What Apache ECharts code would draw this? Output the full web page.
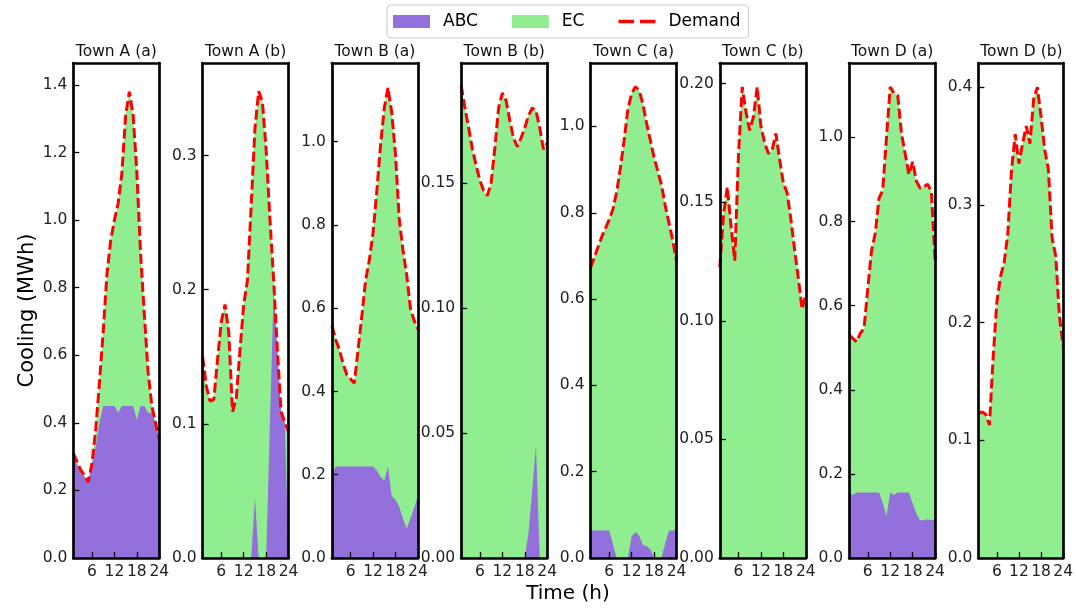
<!DOCTYPE html>
<html><head><meta charset="utf-8">
<script src="https://cdn.jsdelivr.net/npm/echarts@6/dist/echarts.min.js"></script>
<style>html,body{margin:0;padding:0;background:#fff}#c{width:1076px;height:610px}</style>
</head><body><div id="c"></div>
<script>
// ---------- data ----------
const hours = [1,2,3,4,5,6,7,8,9,10,11,12,13,14,15,16,17,18,19,20,21,22,23,24];
const xTicks = [6,12,18,24];
const titles = ['Town A (a)','Town A (b)','Town B (a)','Town B (b)','Town C (a)','Town C (b)','Town D (a)','Town D (b)'];
const seriesNames = ['ABC','EC','Demand'];

const demandA_a = [0.31,0.285,0.26,0.245,0.225,0.28,0.38,0.52,0.67,0.84,0.94,1.0,1.05,1.14,1.31,1.38,1.31,1.14,0.90,0.72,0.55,0.45,0.40,0.35];
const abcA_a    = [0.30,0.275,0.255,0.24,0.225,0.28,0.33,0.40,0.45,0.45,0.45,0.45,0.43,0.45,0.45,0.45,0.45,0.41,0.45,0.45,0.43,0.43,0.40,0.35];

const demandA_b = [0.150,0.128,0.117,0.118,0.148,0.176,0.189,0.168,0.109,0.119,0.155,0.189,0.207,0.263,0.320,0.348,0.340,0.304,0.253,0.207,0.155,0.109,0.101,0.094];
const abcA_b    = [0,0,0,0,0,0,0,0,0,0,0,0,0,0,0.045,0,0,0,0.10,0.20,0.155,0.109,0.101,0];

const demandB_a = [0.558,0.525,0.50,0.467,0.44,0.43,0.42,0.50,0.58,0.666,0.715,0.78,0.88,0.99,1.08,1.13,1.07,0.97,0.815,0.74,0.68,0.60,0.57,0.55];
const abcB_a    = [0.20,0.22,0.22,0.22,0.22,0.22,0.22,0.22,0.22,0.22,0.22,0.22,0.21,0.195,0.186,0.219,0.149,0.14,0.124,0.095,0.07,0.095,0.12,0.149];

const demandB_b = [0.189,0.180,0.172,0.1635,0.157,0.151,0.147,0.145,0.150,0.164,0.180,0.186,0.183,0.175,0.168,0.1645,0.168,0.172,0.177,0.180,0.179,0.172,0.1635,0.166];
const abcB_b    = [0,0,0,0,0,0,0,0,0,0,0,0,0,0,0,0,0,0,0.01,0.027,0.045,0,0,0];

const demandC_a = [0.672,0.696,0.72,0.744,0.764,0.784,0.808,0.848,0.904,0.968,1.04,1.076,1.092,1.084,1.052,1.008,0.968,0.928,0.896,0.864,0.816,0.776,0.736,0.688];
const abcC_a    = [0.064,0.064,0.064,0.064,0.064,0.064,0.032,0,0,0,0,0.05,0.06,0.052,0.03,0.028,0.02,0,0,0,0.035,0.064,0.064,0.064];

const demandC_b = [0.1226,0.145,0.1564,0.14,0.1254,0.17,0.1986,0.188,0.1803,0.186,0.1986,0.182,0.175,0.1705,0.172,0.179,0.168,0.158,0.154,0.143,0.13,0.118,0.105,0.111];
const abcC_b    = [0,0,0,0,0,0,0,0,0,0,0,0,0,0,0,0,0,0,0,0,0,0,0,0];

const demandD_a = [0.53,0.522,0.514,0.534,0.546,0.641,0.731,0.772,0.855,0.875,1.0,1.12,1.105,1.10,1.01,0.961,0.912,0.942,0.896,0.879,0.883,0.889,0.871,0.707];
const abcD_a    = [0.156,0.15,0.156,0.156,0.156,0.156,0.156,0.156,0.156,0.13,0.099,0.156,0.15,0.156,0.156,0.156,0.156,0.13,0.105,0.09,0.09,0.092,0.09,0.092];

const demandD_b = [0.123,0.124,0.122,0.113,0.17,0.217,0.239,0.251,0.276,0.33,0.36,0.335,0.352,0.367,0.352,0.39,0.40,0.375,0.347,0.33,0.272,0.256,0.205,0.18];
const abcD_b    = [0,0,0,0,0,0,0,0,0,0,0,0,0,0,0,0,0,0,0,0,0,0,0,0];

const yTicksA_a = [0,0.2,0.4,0.6,0.8,1.0,1.2,1.4];
const yTicksA_b = [0,0.1,0.2,0.3];
const yTicksB_a = [0,0.2,0.4,0.6,0.8,1.0];
const yTicksB_b = [0,0.05,0.10,0.15];
const yTicksC_a = [0,0.2,0.4,0.6,0.8,1.0];
const yTicksC_b = [0,0.05,0.10,0.15,0.20];
const yTicksD_a = [0,0.2,0.4,0.6,0.8,1.0];
const yTicksD_b = [0,0.1,0.2,0.3,0.4];

// ---------- layout / styling ----------
const panels = [
  {abc: abcA_a, demand: demandA_a, yTicks: yTicksA_a, yMax: 1.465, dec: 1},
  {abc: abcA_b, demand: demandA_b, yTicks: yTicksA_b, yMax: 0.369, dec: 1},
  {abc: abcB_a, demand: demandB_a, yTicks: yTicksB_a, yMax: 1.189, dec: 1},
  {abc: abcB_b, demand: demandB_b, yTicks: yTicksB_b, yMax: 0.198, dec: 2},
  {abc: abcC_a, demand: demandC_a, yTicks: yTicksC_a, yMax: 1.147, dec: 1},
  {abc: abcC_b, demand: demandC_b, yTicks: yTicksC_b, yMax: 0.2087, dec: 2},
  {abc: abcD_a, demand: demandD_a, yTicks: yTicksD_a, yMax: 1.177, dec: 1},
  {abc: abcD_b, demand: demandD_b, yTicks: yTicksD_b, yMax: 0.4205, dec: 1}
];
const FONT = 'DejaVu Sans';
const TICK_FS = 15.5;
const L0 = 73.3, STEP = 129.3, W = 86, TOP = 63, H = 495;
const frameLine = {show: true, onZero: false, lineStyle: {color: '#000', width: 2.7}};

const grid = [], xAxis = [], yAxis = [], series = [], title = [];
panels.forEach((p, i) => {
  const left = L0 + i * STEP;
  grid.push({left: left, top: TOP, width: W, height: H, containLabel: false});
  title.push({text: titles[i], left: left + W / 2, top: 44, padding: 0, textAlign: 'center',
    textStyle: {fontSize: TICK_FS, fontWeight: 'normal', fontFamily: FONT, color: '#111'}});
  xAxis.push({type: 'value', gridIndex: i, min: 1, max: 24, position: 'bottom', z: 10,
    axisLine: frameLine,
    axisTick: {show: true, inside: true, length: 6, customValues: xTicks, lineStyle: {color: '#000', width: 1.3}},
    axisLabel: {show: true, customValues: xTicks, margin: 6, color: '#222', fontSize: TICK_FS, fontFamily: FONT},
    splitLine: {show: false}});
  xAxis.push({type: 'value', gridIndex: i, min: 1, max: 24, position: 'top', z: 10,
    axisLine: frameLine, axisTick: {show: false}, axisLabel: {show: false}, splitLine: {show: false}});
  const yA = {type: 'value', gridIndex: i, min: 0, max: p.yMax, position: 'left', z: 10,
    axisLine: frameLine,
    axisTick: {show: true, inside: true, length: 6, customValues: p.yTicks, lineStyle: {color: '#000', width: 1.3}},
    axisLabel: {show: true, customValues: p.yTicks, margin: 6, color: '#222', fontSize: TICK_FS, fontFamily: FONT,
      formatter: (v) => Number(v).toFixed(p.dec)},
    splitLine: {show: false}};
  if (i === 0) {
    yA.name = 'Cooling (MWh)';
    yA.nameLocation = 'middle';
    yA.nameGap = 35;
    yA.nameRotate = 90;
    yA.nameTextStyle = {fontSize: 21, fontFamily: FONT, color: '#000'};
  }
  yAxis.push(yA);
  yAxis.push({type: 'value', gridIndex: i, min: 0, max: p.yMax, position: 'right', z: 10,
    axisLine: frameLine, axisTick: {show: false}, axisLabel: {show: false}, splitLine: {show: false}});

  const xi = 2 * i, yi = 2 * i;
  series.push({type: 'line', name: 'EC', xAxisIndex: xi, yAxisIndex: yi, z: 2,
    data: hours.map((h, k) => [h, p.demand[k]]), symbol: 'none', silent: true,
    lineStyle: {width: 0, opacity: 0}, itemStyle: {color: '#90EE90'},
    areaStyle: {color: '#90EE90', opacity: 1}});
  series.push({type: 'line', name: 'ABC', xAxisIndex: xi, yAxisIndex: yi, z: 3,
    data: hours.map((h, k) => [h, p.abc[k]]), symbol: 'none', silent: true,
    lineStyle: {width: 0, opacity: 0}, itemStyle: {color: '#9370DB'},
    areaStyle: {color: '#9370DB', opacity: 1}});
  series.push({type: 'line', name: 'Demand', xAxisIndex: xi, yAxisIndex: yi, z: 4,
    data: hours.map((h, k) => [h, p.demand[k]]), symbol: 'none', silent: true,
    lineStyle: {color: '#ff0000', width: 3, type: [10, 4]}, itemStyle: {color: '#ff0000'}});
});
title.push({text: 'Time (h)', left: 568, top: 584, padding: 0, textAlign: 'center',
  textStyle: {fontSize: 20, fontWeight: 'normal', fontFamily: FONT, color: '#000'}});

const chart = echarts.init(document.getElementById('c'), null, {renderer: 'canvas'});
chart.setOption({
  animation: false,
  backgroundColor: '#fff',
  title: title,
  legend: {
    left: 387, top: 5, padding: [8, 8, 8, 6], borderColor: '#ccc', borderWidth: 1, borderRadius: 4,
    itemWidth: 37, itemHeight: 13, itemGap: 34,
    textStyle: {fontSize: 17, fontFamily: FONT, color: '#000', padding: [0, 0, 0, 8]},
    data: [
      {name: seriesNames[0], icon: 'rect', itemStyle: {color: '#9370DB', borderWidth: 0}},
      {name: seriesNames[1], icon: 'rect', itemStyle: {color: '#90EE90', borderWidth: 0}},
      {name: seriesNames[2], icon: 'path://M0,0H13V2.8H0Z M18,0H31V2.8H18Z', itemStyle: {color: '#ff0000', borderWidth: 0}}
    ]
  },
  grid: grid, xAxis: xAxis, yAxis: yAxis, series: series
});
</script></body></html>
